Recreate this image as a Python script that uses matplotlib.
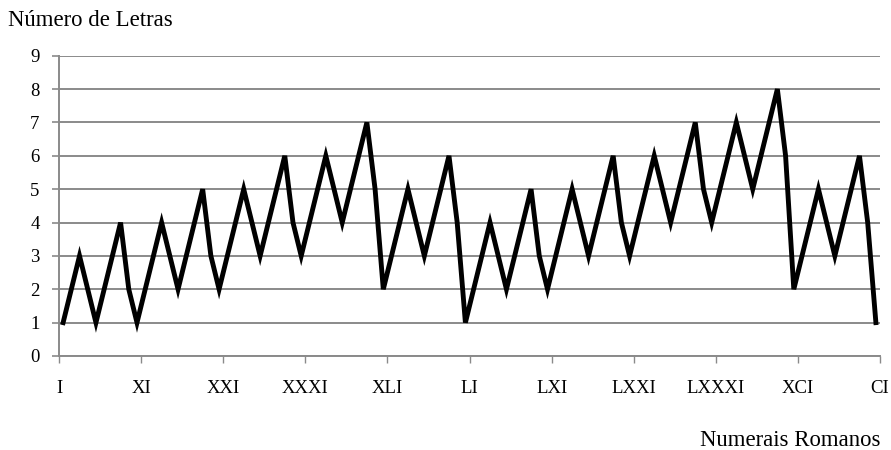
import matplotlib
matplotlib.use("Agg")
import matplotlib.pyplot as plt

# Roman numerals I..C and the number of letters in each
numbers = list(range(1, 101))
letter_counts = [
    1, 2, 3, 2, 1, 2, 3, 4, 2, 1,
    2, 3, 4, 3, 2, 3, 4, 5, 3, 2,
    3, 4, 5, 4, 3, 4, 5, 6, 4, 3,
    4, 5, 6, 5, 4, 5, 6, 7, 5, 2,
    3, 4, 5, 4, 3, 4, 5, 6, 4, 1,
    2, 3, 4, 3, 2, 3, 4, 5, 3, 2,
    3, 4, 5, 4, 3, 4, 5, 6, 4, 3,
    4, 5, 6, 5, 4, 5, 6, 7, 5, 4,
    5, 6, 7, 6, 5, 6, 7, 8, 6, 2,
    3, 4, 5, 4, 3, 4, 5, 6, 4, 1,
]
tick_labels = ["I", "XI", "XXI", "XXXI", "XLI", "LI", "LXI", "LXXI",
               "LXXXI", "XCI", "CI"]
y_ticks = list(range(0, 10))

plt.rcParams["font.family"] = ["Liberation Serif", "DejaVu Serif"]

fig = plt.figure(figsize=(8.91, 4.50), dpi=100)
ax = fig.add_axes([59 / 891, 1 - 356 / 450, (880 - 59) / 891, (356 - 55.7) / 450])

grid_color = "#8a8a8a"
ax.plot(numbers, letter_counts, color="black", linewidth=3.5,
        solid_joinstyle="miter", zorder=3)

ax.set_xlim(0.5, 100.5)
ax.set_ylim(0, 9)
ax.set_yticks(y_ticks)
ax.set_xticks([0.5 + 10 * i for i in range(len(tick_labels))])
ax.set_xticklabels(tick_labels)

ax.yaxis.grid(True, color=grid_color, linewidth=1.4, zorder=1)
ax.set_axisbelow(True)

for side in ("top", "right"):
    ax.spines[side].set_visible(False)
for side in ("left", "bottom"):
    ax.spines[side].set_color(grid_color)
    ax.spines[side].set_linewidth(1.4)

ax.tick_params(axis="y", direction="out", length=5, width=1.2,
               color=grid_color, labelsize=13.5, pad=9)
ax.tick_params(axis="x", direction="out", length=5, width=1.0,
               color=grid_color, labelsize=13.5, pad=12)

fig.text(8 / 891, 1 - 21 / 450, "Número de Letras", fontsize=16.4,
         ha="left", va="center")
fig.text(880 / 891, 1 - 440 / 450, "Numerais Romanos", fontsize=16.4,
         ha="right", va="center")

fig.savefig("out.png", dpi=100)
